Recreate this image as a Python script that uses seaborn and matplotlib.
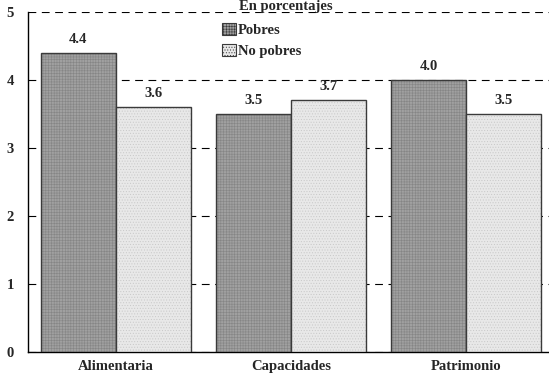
import matplotlib
matplotlib.use("Agg")
import matplotlib.pyplot as plt
import seaborn as sns
import pandas as pd
from matplotlib.patches import Patch

categories = ["Alimentaria", "Capacidades", "Patrimonio"]
pobres = [4.4, 3.5, 4.0]
no_pobres = [3.6, 3.7, 3.5]
series = ["Pobres", "No pobres"]

df = pd.DataFrame({
    "cat": categories * 2,
    "val": pobres + no_pobres,
    "grupo": [series[0]] * 3 + [series[1]] * 3,
})

sns.set_style("white")
plt.rcParams["font.family"] = ["Liberation Serif", "DejaVu Serif"]
plt.rcParams["font.weight"] = "bold"
plt.rcParams["hatch.linewidth"] = 0.4

colors = ["#a0a0a0", "#e8e8e8"]
hatches = ["++++++", "......"]

fig = plt.figure(figsize=(5.49, 3.77), dpi=100)
ax = fig.add_axes([0.051, 0.0663, 0.958, 0.902])

sns.barplot(data=df, x="cat", y="val", hue="grupo", palette=colors,
            width=0.857, gap=0, edgecolor="#3a3a3a", linewidth=1.0,
            saturation=1, legend=False, ax=ax, zorder=3)

for i, cont in enumerate(ax.containers):
    for bar in cont:
        bar.set_hatch(hatches[i])
        bar._hatch_color = matplotlib.colors.to_rgba("#858585" if i == 0 else "#c8c8c8")
    ax.bar_label(cont, fmt="%.1f", padding=5, fontsize=10.5, fontweight="bold", zorder=4)

ax.set_ylim(0, 5)
ax.set_xlim(-0.5, 2.5)
ax.set_yticks([0, 1, 2, 3, 4, 5])
ax.yaxis.grid(True, linestyle=(0, (7, 5)), color="black", linewidth=0.8, zorder=0)
ax.set_axisbelow(True)
ax.set_xlabel("")
ax.set_ylabel("")
ax.tick_params(axis="both", length=0, labelsize=10.5, pad=10)
ax.tick_params(axis="x", pad=6)
for lab in ax.get_xticklabels() + ax.get_yticklabels():
    lab.set_fontweight("bold")
for s in ["top", "right"]:
    ax.spines[s].set_visible(False)
for s in ["left", "bottom"]:
    ax.spines[s].set_color("black")
    ax.spines[s].set_linewidth(1.0)

handles = [Patch(facecolor=colors[i], edgecolor="#3a3a3a", hatch=hatches[i], linewidth=0.8)
           for i in range(2)]
leg = ax.legend(handles, series, loc="upper left", bbox_to_anchor=(0.357, 0.985),
                frameon=False, fontsize=10.5, handlelength=1.0, handleheight=0.9,
                handletextpad=0.1, labelspacing=0.45, borderaxespad=0)
for t in leg.get_texts():
    t.set_fontweight("bold")

fig.text(0.52, 0.999, "En porcentajes", ha="center", va="top",
         fontsize=10.5, fontweight="bold")

fig.savefig("out.png", dpi=100)
